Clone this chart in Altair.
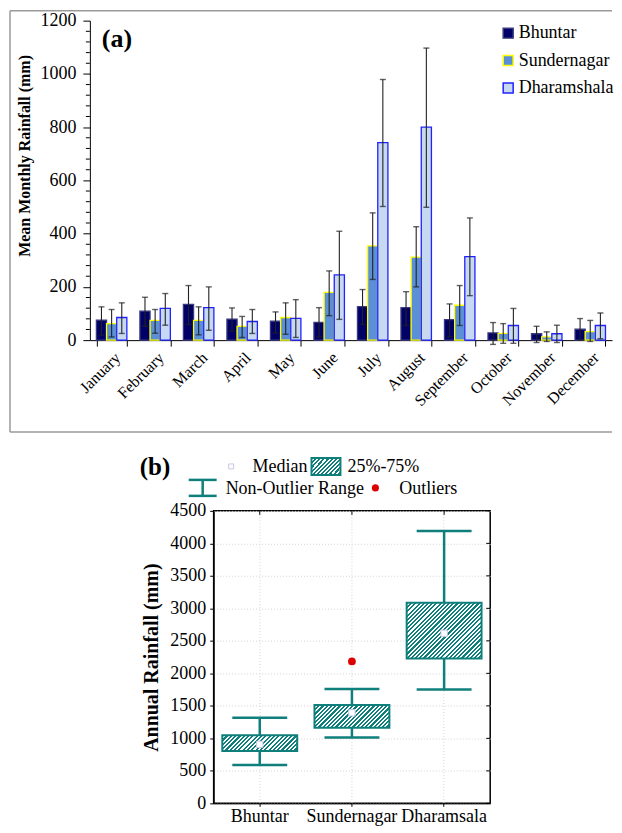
import math
import altair as alt
import pandas as pd

FONT = "Liberation Serif"

# ---------------- data: panel (a) ----------------
months = ["January", "February", "March", "April", "May", "June", "July",
          "August", "September", "October", "November", "December"]
stations = ["Bhuntar", "Sundernagar", "Dharamshala"]

bhuntar_mean = [75, 109, 134, 79, 71, 67, 126, 122, 77, 27, 24, 41]
bhuntar_lo = [19, 52, 59, 34, 27, 12, 59, 55, 12, -16, -9, 0]
bhuntar_hi = [125, 161, 205, 121, 106, 122, 190, 182, 136, 66, 52, 81]

sunder_mean = [62, 74, 74, 52, 85, 179, 354, 312, 131, 25, 12, 32]
sunder_lo = [12, 26, 20, 10, 22, 92, 228, 200, 55, -12, -5, -5]
sunder_hi = [115, 115, 125, 89, 140, 260, 478, 426, 205, 62, 31, 74]

dharam_mean = [85, 119, 122, 70, 82, 245, 742, 800, 314, 55, 24, 55]
dharam_lo = [25, 56, 37, 25, 10, 78, 502, 499, 167, -12, -9, 5]
dharam_hi = [140, 175, 200, 115, 152, 409, 979, 1097, 459, 119, 56, 102]

y_ticks_a = [0, 200, 400, 600, 800, 1000, 1200]
y_minor_a = [v for v in range(40, 1200, 40) if v % 200 != 0]

# ---------------- data: panel (b) ----------------
b_stations = ["Bhuntar", "Sundernagar", "Dharamsala"]
whisk_lo = [590, 1015, 1750]
q1 = [806, 1163, 2230]
median = [908, 1393, 2617]
q3 = [1046, 1515, 3087]
whisk_hi = [1316, 1760, 4190]
outlier_station = ["Sundernagar"]
outlier_value = [2184]
y_ticks_b = list(range(0, 4501, 500))

# ---------------- styling ----------------
fills = ["#000066", "#5b8fd6", "#c6d9f1"]
strokes = ["#3a3a80", "#ffff00", "#2222ff"]
TEAL = "#0f7f7c"

rows = []
for st, m, lo, hi in [("Bhuntar", bhuntar_mean, bhuntar_lo, bhuntar_hi),
                      ("Sundernagar", sunder_mean, sunder_lo, sunder_hi),
                      ("Dharamshala", dharam_mean, dharam_lo, dharam_hi)]:
    for i, mo in enumerate(months):
        rows.append({"month": mo, "station": st, "mean": m[i], "lo": lo[i], "hi": hi[i]})
df_a = pd.DataFrame(rows)
df_minor = pd.DataFrame({"v": y_minor_a})
dummy = pd.DataFrame({"t": ["x"]})

W1, H1 = 523, 320

xscale_a = alt.Scale(domain=months, paddingInner=0.3, paddingOuter=0.15)
xaxis_a = alt.Axis(title=None, labelAngle=-45, labelFontSize=16, labelFont=FONT,
                   labelColor="black", tickSize=6, tickBand="extent", labelPadding=3,
                   domainColor="black", tickColor="black", grid=False)
xenc = alt.X("month:N", sort=months, scale=xscale_a, axis=xaxis_a)
xoff = alt.XOffset("station:N", sort=stations,
                   scale=alt.Scale(domain=stations, paddingInner=0, paddingOuter=0))
yscale_a = alt.Scale(domain=[0, 1200], nice=False)
yaxis_a = alt.Axis(title="Mean Monthly Rainfall (mm)", values=y_ticks_a, format="d", labelFontSize=18,
                   labelFont=FONT, labelColor="black", tickSize=7, labelPadding=7,
                   titleFontSize=16, titleFont=FONT, titleFontWeight="bold", titleColor="black",
                   titlePadding=7, titleY=135, domainColor="black", tickColor="black", grid=False)

fill_scale = alt.Scale(domain=stations, range=fills)
stroke_scale = alt.Scale(domain=stations, range=strokes)

base_a = alt.Chart(df_a)
bars = base_a.mark_bar(strokeWidth=1.3).encode(
    x=xenc, xOffset=xoff,
    y=alt.Y("mean:Q", scale=yscale_a, axis=yaxis_a),
    fill=alt.Fill("station:N", sort=stations, scale=fill_scale, legend=None),
    stroke=alt.Stroke("station:N", sort=stations, scale=stroke_scale, legend=None),
)
err = base_a.mark_rule(color="#222222", strokeWidth=1.1).encode(
    x=xenc, xOffset=xoff,
    y=alt.Y("lo:Q", scale=yscale_a, axis=yaxis_a), y2="hi:Q")
cap_lo = base_a.mark_tick(color="#222222", thickness=1.4, size=6).encode(
    x=xenc, xOffset=xoff, y=alt.Y("lo:Q", scale=yscale_a, axis=yaxis_a))
cap_hi = base_a.mark_tick(color="#222222", thickness=1.4, size=6).encode(
    x=xenc, xOffset=xoff, y=alt.Y("hi:Q", scale=yscale_a, axis=yaxis_a))
minor = alt.Chart(df_minor).mark_rule(color="black", strokeWidth=1).encode(
    y=alt.Y("v:Q", scale=yscale_a, axis=yaxis_a), x=alt.value(-4), x2=alt.value(0))


def txt(s, x, y, size=18, weight="normal"):
    return alt.Chart(pd.DataFrame({"t": [s]})).mark_text(
        font=FONT, fontSize=size, fontWeight=weight, align="left", baseline="middle", color="black"
    ).encode(text="t:N", x=alt.value(x), y=alt.value(y))


label_a = txt("(a)", 12, 18, size=26, weight="bold")

# legend of panel (a), drawn with the same colour scales as the bars
leg_rows_y = [12.5, 40, 67.5]
leg_layers = []
for i, st in enumerate(stations):
    leg_layers.append(alt.Chart(pd.DataFrame({"station": [st]})).mark_square(
        size=100, strokeWidth=1.5, opacity=1).encode(
        x=alt.value(419), y=alt.value(leg_rows_y[i]),
        fill=alt.Fill("station:N", sort=stations, scale=fill_scale, legend=None),
        stroke=alt.Stroke("station:N", sort=stations, scale=stroke_scale, legend=None)))
    leg_layers.append(txt(st, 429.5, leg_rows_y[i]))

FR = "#9a9a9a"
frame_top = alt.Chart(dummy).mark_rule(color=FR, strokeWidth=1.5).encode(
    x=alt.value(-80), x2=alt.value(W1), y=alt.value(-10))
frame_bot = alt.Chart(dummy).mark_rule(color=FR, strokeWidth=1.5).encode(
    x=alt.value(-80), x2=alt.value(W1), y=alt.value(412))
frame_left = alt.Chart(dummy).mark_rule(color=FR, strokeWidth=1.5).encode(
    x=alt.value(-80), y=alt.value(-10), y2=alt.value(412))

top = alt.layer(frame_top, frame_bot, frame_left, bars, err, cap_lo, cap_hi, minor, label_a,
                *leg_layers).properties(
    width=W1, height=H1, view=alt.ViewBackground(stroke="transparent"))

# ---------------- panel (b) ----------------
W2, H2 = 277, 293
df_b = pd.DataFrame({"station": b_stations, "lo": whisk_lo, "q1": q1, "med": median,
                     "q3": q3, "hi": whisk_hi})
df_out = pd.DataFrame({"station": outlier_station, "v": outlier_value})
df_yt = pd.DataFrame({"v": y_ticks_b})


def hatch(w, h, period=3.0, frac=0.5):
    r = h / w
    s = (1 + r) / (1 + r * r)
    n = max(1, round((w + h) / (math.sqrt(2) * period)))
    stops = []
    for i in range(n):
        a, b, c = i / n, (i + frac) / n, (i + 1) / n
        stops += [alt.GradientStop(offset=a, color=TEAL), alt.GradientStop(offset=b, color=TEAL),
                  alt.GradientStop(offset=b, color="white"), alt.GradientStop(offset=c, color="white")]
    return alt.LinearGradient(gradient="linear", x1=0, y1=0, x2=s, y2=s * r, stops=stops)


xscale_b = alt.Scale(domain=b_stations, paddingInner=0, paddingOuter=0)
xaxis_b = alt.Axis(title=None, labelAngle=0, labelFontSize=18, labelFont=FONT, labelColor="black",
                   tickSize=3, labelPadding=1, grid=True, gridColor="#d4d4d4", gridDash=[1, 2],
                   bandPosition=0.5, domainColor="black", tickColor="black")
xb = alt.X("station:N", sort=b_stations, scale=xscale_b, axis=xaxis_b)
yscale_b = alt.Scale(domain=[0, 4500], nice=False)
yaxis_b = alt.Axis(title="Annual Rainfall (mm)", values=y_ticks_b, format="d", labelFontSize=18,
                   labelFont=FONT, labelColor="black", tickSize=4, labelPadding=4, grid=True,
                   gridColor="#d4d4d4", gridDash=[1, 2], titleFontSize=20, titleFont=FONT,
                   titleFontWeight="bold", titleColor="black", titlePadding=8,
                   domainColor="black", tickColor="black")

base_b = alt.Chart(df_b)
whisk = base_b.mark_rule(color=TEAL, strokeWidth=2.5).encode(
    x=xb, y=alt.Y("lo:Q", scale=yscale_b, axis=yaxis_b), y2="hi:Q")
wcap_lo = base_b.mark_tick(color=TEAL, thickness=2.5, size=55, opacity=1).encode(
    x=xb, y=alt.Y("lo:Q", scale=yscale_b, axis=yaxis_b))
wcap_hi = base_b.mark_tick(color=TEAL, thickness=2.5, size=55, opacity=1).encode(
    x=xb, y=alt.Y("hi:Q", scale=yscale_b, axis=yaxis_b))

box_layers = []
for i, st in enumerate(b_stations):
    h = (q3[i] - q1[i]) * H2 / 4500.0
    box_layers.append(
        base_b.transform_filter(alt.datum.station == st).mark_bar(
            fill=hatch(75, h), stroke=TEAL, strokeWidth=2, size=75, opacity=1
        ).encode(x=xb, y=alt.Y("q1:Q", scale=yscale_b, axis=yaxis_b), y2="q3:Q"))

med = base_b.mark_square(size=40, fill="white", stroke="#c8c8e6", strokeWidth=1, opacity=1).encode(
    x=xb, y=alt.Y("med:Q", scale=yscale_b, axis=yaxis_b))
outl = alt.Chart(df_out).mark_circle(size=60, color="#dd0000", opacity=1).encode(
    x=xb, y=alt.Y("v:Q", scale=yscale_b, axis=yaxis_b))
top_ticks = base_b.mark_rule(color="black", strokeWidth=1).encode(
    x=xb, y=alt.value(0), y2=alt.value(4))
right_ticks = alt.Chart(df_yt).mark_rule(color="black", strokeWidth=1).encode(
    y=alt.Y("v:Q", scale=yscale_b, axis=yaxis_b), x=alt.value(W2 - 4), x2=alt.value(W2))

lab_b = txt("(b)", -74, -44, size=25, weight="bold")
leg_med_sym = alt.Chart(dummy).mark_square(size=25, fill="white", stroke="#c8c8e6", strokeWidth=1,
                                           opacity=1).encode(x=alt.value(17.5), y=alt.value(-44.5))
leg_med_txt = txt("Median", 39, -44)
leg_box = alt.Chart(dummy).mark_rect(fill=hatch(30, 17), stroke=TEAL, strokeWidth=2).encode(
    x=alt.value(98), x2=alt.value(127), y=alt.value(-53), y2=alt.value(-36))
leg_box_txt = txt("25%-75%", 134, -44)
leg_w1 = alt.Chart(dummy).mark_rule(color=TEAL, strokeWidth=2.5).encode(
    x=alt.value(-25), x2=alt.value(3), y=alt.value(-31))
leg_w2 = alt.Chart(dummy).mark_rule(color=TEAL, strokeWidth=2.5).encode(
    x=alt.value(-25), x2=alt.value(3), y=alt.value(-15))
leg_w3 = alt.Chart(dummy).mark_rule(color=TEAL, strokeWidth=2.5).encode(
    x=alt.value(-11), y=alt.value(-31), y2=alt.value(-15))
leg_w_txt = txt("Non-Outlier Range", 12, -22)
leg_out = alt.Chart(dummy).mark_circle(size=50, color="#dd0000", opacity=1).encode(
    x=alt.value(162), y=alt.value(-23))
leg_out_txt = txt("Outliers", 186, -22)

bottom = alt.layer(whisk, wcap_lo, wcap_hi, *box_layers, med, outl, top_ticks, right_ticks,
                   lab_b, leg_med_sym, leg_med_txt, leg_box, leg_box_txt, leg_w1, leg_w2, leg_w3,
                   leg_w_txt, leg_out, leg_out_txt).properties(
    width=W2, height=H2, view=alt.ViewBackground(stroke="black", strokeWidth=1.5))

spacer = alt.Chart(dummy).mark_point(opacity=0).encode(x=alt.value(0), y=alt.value(0)).properties(
    width=48, height=10, view=alt.ViewBackground(stroke="transparent"))

chart = alt.vconcat(top, alt.hconcat(spacer, bottom, spacing=0), spacing=20).properties(
    padding={"left": 0, "top": 0, "right": 0, "bottom": 0}
).configure(font=FONT, background="white").configure_text(font=FONT).configure_axis(
    labelFont=FONT, titleFont=FONT)

chart.save("out.html", embed_options={"renderer": "svg", "actions": False})
